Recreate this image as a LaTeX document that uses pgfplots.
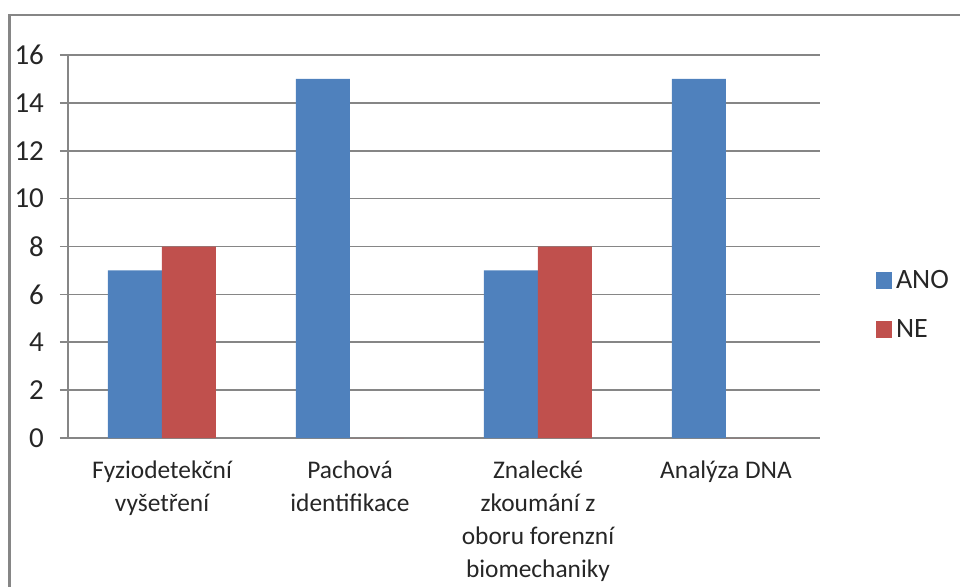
\documentclass[border=0pt]{standalone}
\usepackage{pgfplots}
\pgfplotsset{compat=1.18}
\usepackage{fontspec}
\setmainfont{Carlito}
\definecolor{anoblue}{HTML}{4F81BD}
\definecolor{nered}{HTML}{C0504D}
\definecolor{axgray}{HTML}{868686}
\begin{document}
\begin{tikzpicture}[x=1pt,y=1pt]
\useasboundingbox (0,0) rectangle (480,293);
\draw[axgray, line width=1.2pt] (4.75,-2) -- (4.75,285.5) -- (482,285.5);
\begin{axis}[
  at={(34pt,74pt)}, anchor=south west,
  scale only axis, width=376pt, height=191.5pt,
  ybar=0pt, bar width=27pt,
  xmin=-0.5, xmax=3.5, ymin=0, ymax=16,
  ytick={0,2,...,16},
  xtick={0,1,2,3},
  xticklabels={{Fyziodetekční\\vyšetření},{Pachová\\identifikace},{Znalecké\\zkoumání z\\oboru forenzní\\biomechaniky},{Analýza DNA}},
  xticklabel style={align=center, font=\fontsize{12.7}{16.5}\selectfont, text=black!85, yshift=-4pt},
  yticklabel style={font=\fontsize{14.5}{16}\selectfont, text=black!85, xshift=-4.5pt},
  /pgf/number format/assume math mode=true,
  axis x line*=bottom, axis y line*=left,
  axis line style={axgray, line width=0.8pt, -},
  tick align=outside,
  major tick length=4pt,
  tick style={axgray, line width=0.8pt},
  x tick style={draw=none},
  extra x ticks={-0.5,0.5,1.5,2.5,3.5},
  extra x tick labels={},
  extra x tick style={tick style={axgray, line width=0.8pt, draw=axgray}, major tick length=4pt},
  ymajorgrids, grid style={axgray, line width=0.8pt},
  legend style={at={(1.066,0.347)}, anchor=west, draw=none, fill=none,
    font=\fontsize{14}{16}\selectfont, text=black!85, row sep=10pt,
    /tikz/every even column/.append style={column sep=0pt}},
  legend cell align=left,
  legend image code/.code={\fill[#1] (0pt,-4.2pt) rectangle (8pt,4.2pt);},
]
\addplot[fill=anoblue, draw=none] coordinates {(0,7) (1,15) (2,7) (3,15)};
\addplot[fill=nered, draw=none] coordinates {(0,8) (1,0) (2,8) (3,0)};
\legend{ANO,NE}
\end{axis}
\end{tikzpicture}
\end{document}
